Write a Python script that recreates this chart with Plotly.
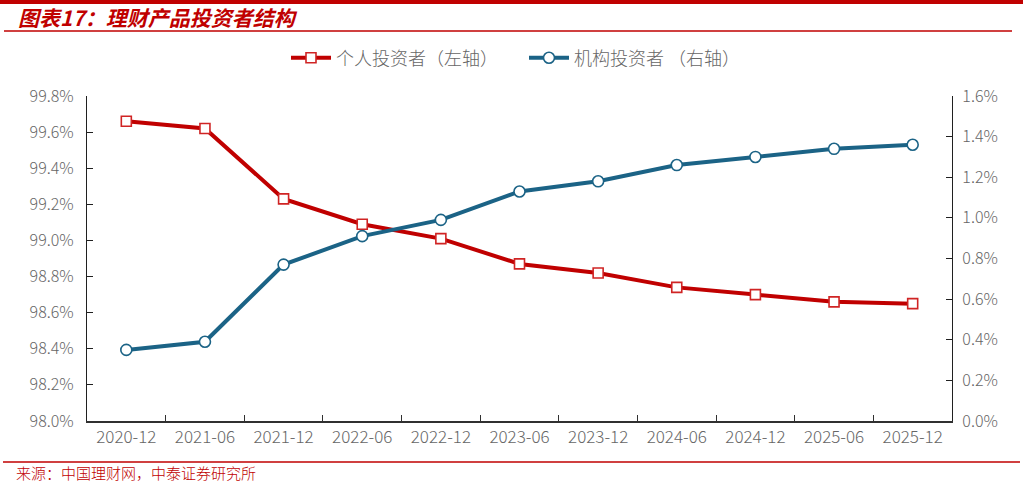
import plotly.graph_objects as go

categories = ["2020-12", "2021-06", "2021-12", "2022-06", "2022-12", "2023-06",
              "2023-12", "2024-06", "2024-12", "2025-06", "2025-12"]
individual = [99.66, 99.62, 99.23, 99.09, 99.01, 98.87, 98.82, 98.74, 98.70, 98.66, 98.65]
institution = [0.35, 0.39, 0.77, 0.91, 0.99, 1.13, 1.18, 1.26, 1.30, 1.34, 1.36]

left_ticks = [98.0, 98.2, 98.4, 98.6, 98.8, 99.0, 99.2, 99.4, 99.6, 99.8]
right_ticks = [0.0, 0.2, 0.4, 0.6, 0.8, 1.0, 1.2, 1.4, 1.6]

W, H = 1023, 482
L, R, T, B = 87, 952, 96, 421

def px(x):
    return (x - L) / (R - L)

def py(y):
    return (B - y) / (B - T)

RED = "#C00000"
BLUE = "#1B6386"
GRAY = "#666666"
FONT = "Noto Sans CJK SC"

fig = go.Figure()
fig.add_trace(go.Scatter(
    x=categories, y=individual, name="个人投资者（左轴）", mode="lines+markers",
    line=dict(color=RED, width=4),
    marker=dict(symbol="square", size=10, color="white", line=dict(color="#D02424", width=1.6)),
    yaxis="y"))
fig.add_trace(go.Scatter(
    x=categories, y=institution, name="机构投资者 （右轴）", mode="lines+markers",
    line=dict(color=BLUE, width=4),
    marker=dict(symbol="circle", size=11, color="white", line=dict(color=BLUE, width=1.6)),
    yaxis="y2"))

fig.update_layout(
    width=W, height=H,
    margin=dict(l=L, r=W - R, t=T, b=H - B),
    paper_bgcolor="white", plot_bgcolor="white",
    font=dict(family=FONT, color=GRAY, size=14),
    showlegend=True,
    legend=dict(orientation="h", x=px(286), xanchor="left", y=py(58), yanchor="middle",
                font=dict(size=18, color=GRAY, family=FONT, weight=300), itemwidth=40,
                entrywidth=183, entrywidthmode="pixels",
                bgcolor="rgba(0,0,0,0)", tracegroupgap=0),
    xaxis=dict(type="category", tickson="boundaries", ticks="inside", ticklen=6,
               tickcolor="#303030", showline=True, linecolor="#303030", linewidth=2,
               showgrid=False, zeroline=False,
               tickfont=dict(size=17, color=GRAY, family=FONT, weight=300),
               range=[-0.5, 10.5]),
    yaxis=dict(range=[98.0, 99.8], tickvals=left_ticks,
               ticktext=[f"{v:.1f}%" for v in left_ticks],
               ticks="inside", ticklen=6, tickcolor="#202020", showline=True,
               linecolor="#202020", linewidth=1.3, showgrid=False, zeroline=False,
               ticklabelstandoff=9,
               tickfont=dict(size=16, color=GRAY, family=FONT, weight=300)),
    yaxis2=dict(range=[0.0, 1.6], tickvals=right_ticks,
                ticktext=[f"{v:.1f}%" for v in right_ticks],
                overlaying="y", side="right",
                ticks="inside", ticklen=6, tickcolor="#202020", showline=True,
                linecolor="#202020", linewidth=1.3, showgrid=False, zeroline=False,
                ticklabelstandoff=6,
                tickfont=dict(size=16, color=GRAY, family=FONT, weight=300)),
)

shapes = [
    dict(type="line", xref="paper", yref="paper", x0=px(0), x1=px(W), y0=py(2), y1=py(2),
         line=dict(color=RED, width=4)),
    dict(type="line", xref="paper", yref="paper", x0=px(4), x1=px(1012), y0=py(31), y1=py(31),
         line=dict(color=RED, width=1.5)),
    dict(type="line", xref="paper", yref="paper", x0=px(3), x1=px(1020), y0=py(462), y1=py(462),
         line=dict(color=RED, width=1.5)),
]
fig.update_layout(shapes=shapes)

fig.add_annotation(xref="paper", yref="paper", x=px(16), y=py(17), xanchor="left", yanchor="middle",
                   text="图表17：理财产品投资者结构", showarrow=False,
                   font=dict(family=FONT, size=21, color=RED, weight="bold", style="italic"))
fig.add_annotation(xref="paper", yref="paper", x=px(14), y=py(472), xanchor="left", yanchor="middle",
                   text="来源：中国理财网，中泰证券研究所", showarrow=False,
                   font=dict(family=FONT, size=15, color=RED, weight=300))

fig.write_html("out.html", config={"displayModeBar": False},
               post_script="document.body.style.margin='0';document.body.style.overflow='hidden';")
